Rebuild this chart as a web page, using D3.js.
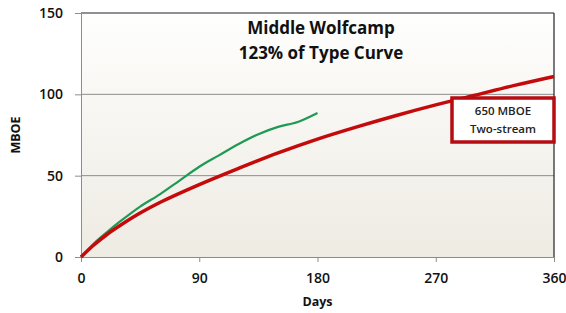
<!DOCTYPE html>
<html>
<head>
<meta charset="utf-8">
<title>Middle Wolfcamp</title>
<script src="https://d3js.org/d3.v7.min.js"></script>
<style>
    body{
        margin:0;
        background:#fff;
        font-family:"Open Sans", "Liberation Sans", sans-serif;
    }
</style>
</head>
<body>
<div id="chart"></div>
<script>
    // type curve (red) and actual (green), days vs MBOE
    var typeDays = [0, 10, 20, 30, 45, 60, 90, 120, 150, 180, 210, 240, 270, 300, 330, 360]
    var typeMboe = [0, 7.5, 14, 19.5, 27, 33.5, 44.5, 54.5, 64, 72.5, 80, 87, 93.5, 99.5, 105.5, 111]

    var wellDays = [0, 10, 20, 30, 45, 60, 75, 90, 105, 120, 135, 150, 165, 180]
    var wellMboe = [0, 8.5, 15.5, 22, 31, 38.5, 47, 55.5, 62.5, 69.5, 75.5, 80, 83, 88.5]

    var xTicks = [0, 90, 180, 270, 360]
    var yTicks = [0, 50, 100, 150]

    var w = 566
    var h = 313
    var margin = {left:81, right:12, top:13, bottom:56}

    var svg = d3.select("#chart").append("svg")
        .attr("width", w)
        .attr("height", h)

    var xScale = d3.scaleLinear().domain([0, 360]).range([margin.left, w - margin.right])
    var yScale = d3.scaleLinear().domain([0, 150]).range([h - margin.bottom, margin.top])

    var defs = svg.append("defs")
    var grad = defs.append("linearGradient").attr("id", "bg")
        .attr("x1", 0).attr("y1", 0).attr("x2", 0).attr("y2", 1)
    grad.append("stop").attr("offset", "0%").attr("stop-color", "#fefefd")
    grad.append("stop").attr("offset", "100%").attr("stop-color", "#eeebe3")

    svg.append("rect")
        .attr("x", xScale(0))
        .attr("y", yScale(150))
        .attr("width", xScale(360) - xScale(0))
        .attr("height", yScale(0) - yScale(150))
        .attr("fill", "url(#bg)")

    // gridlines
    svg.selectAll(".grid")
        .data([50, 100])
        .enter()
        .append("line")
        .attr("class", "grid")
        .attr("x1", xScale(0)).attr("x2", xScale(360))
        .attr("y1", function(d){ return yScale(d) })
        .attr("y2", function(d){ return yScale(d) })
        .attr("stroke", "#8c8c8c")
        .attr("stroke-width", 1)

    // top and right border
    svg.append("line")
        .attr("x1", xScale(0)).attr("x2", xScale(360))
        .attr("y1", yScale(150)).attr("y2", yScale(150))
        .attr("stroke", "#222").attr("stroke-width", 1.2)
    svg.append("line")
        .attr("x1", xScale(360)).attr("x2", xScale(360))
        .attr("y1", yScale(150)).attr("y2", yScale(0))
        .attr("stroke", "#222").attr("stroke-width", 1.2)

    var xAxis = d3.axisBottom(xScale).tickValues(xTicks).tickSize(5).tickPadding(11)
    var yAxis = d3.axisLeft(yScale).tickValues(yTicks).tickSize(6).tickPadding(12)

    var gx = svg.append("g")
        .attr("transform", "translate(0," + yScale(0) + ")")
        .call(xAxis)
    var gy = svg.append("g")
        .attr("transform", "translate(" + xScale(0) + ",0)")
        .call(yAxis)

    svg.selectAll(".domain").attr("stroke", "#8c8c8c")
    svg.selectAll(".tick line").attr("stroke", "#8c8c8c")
    svg.selectAll(".tick text")
        .attr("fill", "#111")
        .style("font-size", "14px")
        .style("font-weight", "600")
        .style("font-family", "Open Sans, Liberation Sans, sans-serif")

    var line = d3.line()
        .x(function(d){ return xScale(d[0]) })
        .y(function(d){ return yScale(d[1]) })
        .curve(d3.curveCatmullRom.alpha(0.5))

    svg.append("path")
        .datum(wellDays.map(function(d, i){ return [d, wellMboe[i]] }))
        .attr("d", line)
        .attr("fill", "none")
        .attr("stroke", "#1f9a55")
        .attr("stroke-width", 2.2)

    svg.append("path")
        .datum(typeDays.map(function(d, i){ return [d, typeMboe[i]] }))
        .attr("d", line)
        .attr("fill", "none")
        .attr("stroke", "#c40a0a")
        .attr("stroke-width", 3.5)

    // title
    svg.append("text").text("Middle Wolfcamp")
        .attr("x", 321).attr("y", 34)
        .attr("text-anchor", "middle")
        .style("font-size", "17px").style("font-weight", "bold").attr("fill", "#111")
    svg.append("text").text("123% of Type Curve")
        .attr("x", 321).attr("y", 59)
        .attr("text-anchor", "middle")
        .style("font-size", "17px").style("font-weight", "bold").attr("fill", "#111")

    // annotation box
    svg.append("rect")
        .attr("x", 452).attr("y", 98)
        .attr("width", 102).attr("height", 44)
        .attr("fill", "#fff")
        .attr("stroke", "#b50d12")
        .attr("stroke-width", 3.5)
    svg.append("text").text("650 MBOE")
        .attr("x", 503).attr("y", 115)
        .attr("text-anchor", "middle")
        .style("font-size", "11.5px").style("font-weight", "600").attr("fill", "#222")
    svg.append("text").text("Two-stream")
        .attr("x", 503).attr("y", 133)
        .attr("text-anchor", "middle")
        .style("font-size", "11.5px").style("font-weight", "600").attr("fill", "#222")

    // axis titles
    svg.append("text").text("Days")
        .attr("x", xScale(180)).attr("y", 306)
        .attr("text-anchor", "middle")
        .style("font-size", "12.5px").style("font-weight", "bold").attr("fill", "#111")
    svg.append("text").text("MBOE")
        .attr("transform", "translate(20," + yScale(75) + ") rotate(-90)")
        .attr("text-anchor", "middle")
        .style("font-size", "12.5px").style("font-weight", "bold").attr("fill", "#111")
</script>
</body>
</html>
